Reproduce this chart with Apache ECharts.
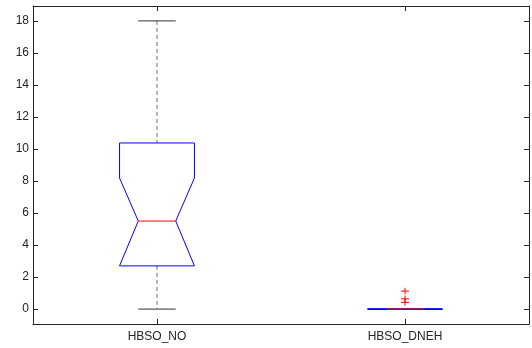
<!DOCTYPE html>
<html><head><meta charset="utf-8">
<script src="https://cdn.jsdelivr.net/npm/echarts@6/dist/echarts.min.js"></script>
<style>html,body{margin:0;padding:0;background:#fff}#c{width:532px;height:348px}</style>
</head><body><div id="c"></div>
<script>
var categories = ['HBSO_NO', 'HBSO_DNEH'];
var lowerWhisker = [0, 0];
var q1 = [2.7, 0];
var median = [5.5, 0];
var q3 = [10.375, 0];
var upperWhisker = [18, 0];
var notchLow = [2.7, 0];
var notchHigh = [8.19, 0];
var outliers = [[1, 1.125], [1, 0.64], [1, 0.42]];
var yTicks = [0, 2, 4, 6, 8, 10, 12, 14, 16, 18];

var boxData = categories.map(function (c, i) {
  return [i, lowerWhisker[i], q1[i], median[i], q3[i], upperWhisker[i], notchLow[i], notchHigh[i]];
});

var chart = echarts.init(document.getElementById('c'));
var font = 'Liberation Sans, Arial, sans-serif';
var axisCol = '#262626';

function renderBox(params, api) {
  var i = api.value(0);
  var band = api.size([1, 0])[0];
  var hw = band * 0.151, nw = band * 0.0755;
  var cx = api.coord([i, 0])[0];
  function y(v) { return api.coord([i, v])[1]; }
  var lw = y(api.value(1)), b1 = y(api.value(2)), md = y(api.value(3)), b3 = y(api.value(4)),
      uw = y(api.value(5)), nl = y(api.value(6)), nh = y(api.value(7));
  var kids = [];
  kids.push({ type: 'line', shape: { x1: cx, y1: uw, x2: cx, y2: b3 }, style: { stroke: '#6e6e6e', lineWidth: 1, lineDash: [4, 3] } });
  kids.push({ type: 'line', shape: { x1: cx, y1: b1, x2: cx, y2: lw }, style: { stroke: '#6e6e6e', lineWidth: 1, lineDash: [4, 3] } });
  kids.push({ type: 'line', shape: { x1: cx - nw, y1: uw, x2: cx + nw, y2: uw }, style: { stroke: '#333', lineWidth: 1 } });
  kids.push({ type: 'line', shape: { x1: cx - nw, y1: lw, x2: cx + nw, y2: lw }, style: { stroke: '#333', lineWidth: 1 } });
  kids.push({ type: 'polygon', shape: { points: [
    [cx - hw, b3], [cx + hw, b3], [cx + hw, nh], [cx + nw, md], [cx + hw, nl], [cx + hw, b1],
    [cx - hw, b1], [cx - hw, nl], [cx - nw, md], [cx - hw, nh]
  ] }, style: { fill: 'none', stroke: '#0000ff', lineWidth: 1 } });
  kids.push({ type: 'line', shape: { x1: cx - nw, y1: md, x2: cx + nw, y2: md }, style: { stroke: '#ff0000', lineWidth: 1 } });
  return { type: 'group', children: kids };
}

function renderOutlier(params, api) {
  var p = api.coord([api.value(0), api.value(1)]);
  var s = 4, t = 3.3;
  return { type: 'group', children: [
    { type: 'line', shape: { x1: p[0] - s, y1: p[1], x2: p[0] + s, y2: p[1] }, style: { stroke: '#ff0000', lineWidth: 1 } },
    { type: 'line', shape: { x1: p[0], y1: p[1] - t, x2: p[0], y2: p[1] + t }, style: { stroke: '#ff0000', lineWidth: 1 } }
  ] };
}

var catAxisBase = {
  type: 'category', data: categories, boundaryGap: true,
  axisLine: { show: true, onZero: false, lineStyle: { color: axisCol, width: 1 } },
  axisTick: { show: true, inside: true, length: 5, alignWithLabel: true, lineStyle: { color: axisCol } },
  splitLine: { show: false }
};
var valAxisBase = {
  type: 'value', min: -0.93, max: 18.93, scale: true,
  axisLine: { show: true, onZero: false, lineStyle: { color: axisCol, width: 1 } },
  axisTick: { show: true, inside: true, length: 5, customValues: yTicks, lineStyle: { color: axisCol } },
  splitLine: { show: false }
};

chart.setOption({
  animation: false,
  backgroundColor: '#fff',
  grid: { left: 33, right: 3, top: 6, bottom: 24 },
  xAxis: [
    Object.assign({}, catAxisBase, { position: 'bottom',
      axisLabel: { show: true, margin: 7, color: axisCol, fontSize: 12, fontFamily: font } }),
    Object.assign({}, catAxisBase, { position: 'top', axisLabel: { show: false } })
  ],
  yAxis: [
    Object.assign({}, valAxisBase, { position: 'left',
      axisLabel: { show: true, margin: 4, customValues: yTicks, color: axisCol, fontSize: 12, fontFamily: font } }),
    Object.assign({}, valAxisBase, { position: 'right', axisLabel: { show: false } })
  ],
  series: [
    { type: 'custom', renderItem: renderBox, data: boxData, xAxisIndex: 0, yAxisIndex: 0,
      encode: { x: 0, y: [1, 2, 3, 4, 5] }, clip: false },
    { type: 'custom', renderItem: renderOutlier, data: outliers, xAxisIndex: 0, yAxisIndex: 0,
      encode: { x: 0, y: 1 }, clip: false }
  ]
});
</script></body></html>
